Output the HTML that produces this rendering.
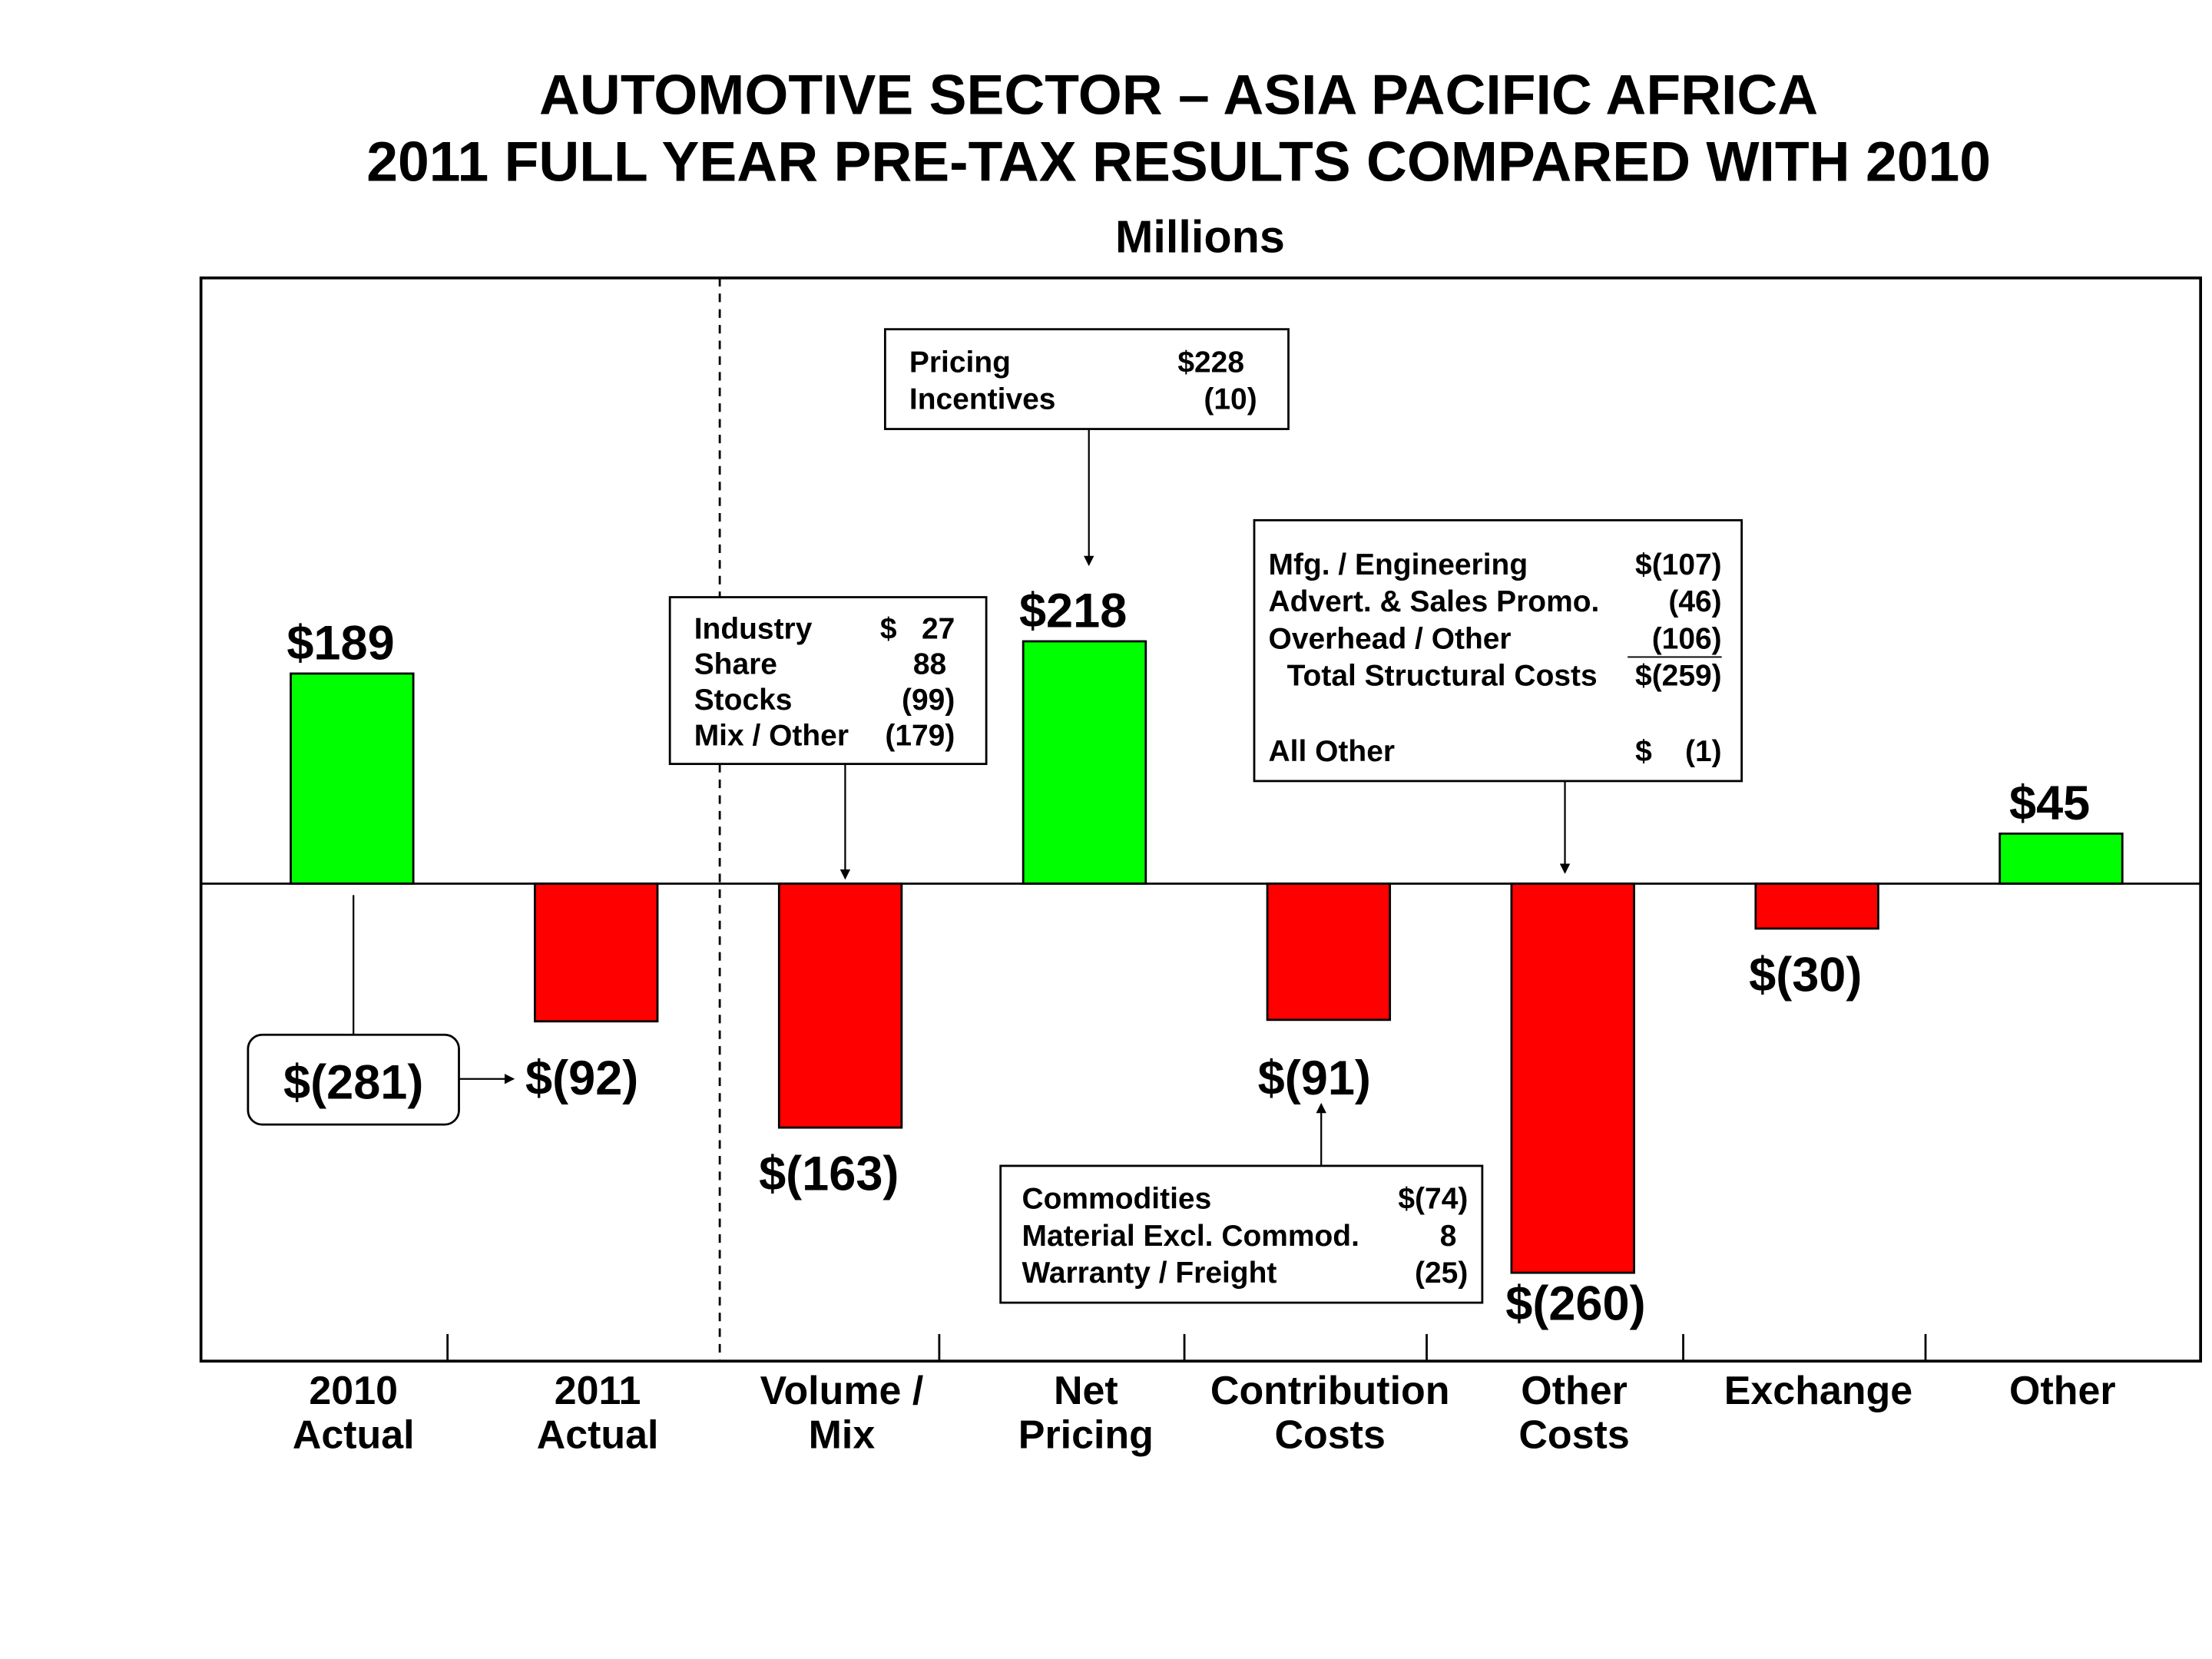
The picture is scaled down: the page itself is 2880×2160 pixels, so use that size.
<!DOCTYPE html>
<html><head><meta charset="utf-8"><style>
html,body{margin:0;padding:0;background:#fff}
svg{display:block}
text{font-family:"Liberation Sans",Arial,sans-serif;font-weight:bold;fill:#000}
</style></head><body>
<svg id="chart" width="2880" height="2160" viewBox="0 0 1552 1164" xmlns="http://www.w3.org/2000/svg">
<defs><marker id="ah" markerWidth="6" markerHeight="6" refX="5" refY="3" orient="auto"><path d="M0,0 L6,3 L0,6 z" fill="#000"/></marker></defs>
<text x="827" y="80" font-size="39.5" text-anchor="middle">AUTOMOTIVE SECTOR – ASIA PACIFIC AFRICA</text>
<text x="827" y="127" font-size="39.5" text-anchor="middle">2011 FULL YEAR PRE-TAX RESULTS COMPARED WITH 2010</text>
<text x="842" y="177" font-size="32" text-anchor="middle">Millions</text>
<rect x="141" y="195" width="1403" height="760" fill="none" stroke="#000" stroke-width="2"/>
<line x1="505" y1="195" x2="505" y2="955" stroke="#000" stroke-width="1.5" stroke-dasharray="6,5"/>
<g id="bars"></g>
<line x1="141" y1="620" x2="1544" y2="620" stroke="#000" stroke-width="1.5"/>
<g id="ticks"></g>
<g id="cats"></g>
<g id="vals"></g>

<line x1="248" y1="628" x2="248" y2="726" stroke="#000" stroke-width="1.2"/>
<rect x="174" y="726" width="148" height="63" rx="10" fill="#fff" stroke="#000" stroke-width="1.5"/>
<text x="248" y="771" font-size="34" text-anchor="middle">$(281)</text>
<line x1="322" y1="757" x2="360" y2="757" stroke="#000" stroke-width="1.2" marker-end="url(#ah)"/>

<g font-size="21">
<rect x="470" y="419" width="222" height="117" fill="#fff" stroke="#000" stroke-width="1.5"/>
<text x="487" y="448" font-size="21">Industry</text><text x="670" y="448" font-size="21" text-anchor="end" xml:space="preserve">$   27</text>
<text x="487" y="473" font-size="21">Share</text><text x="664" y="473" font-size="21" text-anchor="end">88</text>
<text x="487" y="498" font-size="21">Stocks</text><text x="670" y="498" font-size="21" text-anchor="end">(99)</text>
<text x="487" y="523" font-size="21">Mix / Other</text><text x="670" y="523" font-size="21" text-anchor="end">(179)</text>
<line x1="593" y1="536" x2="593" y2="616" stroke="#000" stroke-width="1.2" marker-end="url(#ah)"/>
</g>
<g>
<rect x="621" y="231" width="283" height="70" fill="#fff" stroke="#000" stroke-width="1.5"/>
<text x="638" y="261" font-size="21">Pricing</text><text x="873" y="261" font-size="21" text-anchor="end">$228</text>
<text x="638" y="287" font-size="21">Incentives</text><text x="882" y="287" font-size="21" text-anchor="end">(10)</text>
<line x1="764" y1="301" x2="764" y2="396" stroke="#000" stroke-width="1.2" marker-end="url(#ah)"/>
</g>
<g>
<rect x="880" y="365" width="342" height="183" fill="#fff" stroke="#000" stroke-width="1.5"/>
<text x="890" y="403" font-size="21">Mfg. / Engineering</text><text x="1208" y="403" font-size="21" text-anchor="end">$(107)</text>
<text x="890" y="429" font-size="21">Advert. &amp; Sales Promo.</text><text x="1208" y="429" font-size="21" text-anchor="end">(46)</text>
<text x="890" y="455" font-size="21">Overhead / Other</text><text x="1208" y="455" font-size="21" text-anchor="end">(106)</text>
<line x1="1142" y1="461" x2="1208" y2="461" stroke="#000" stroke-width="1"/>
<text x="903" y="481" font-size="21">Total Structural Costs</text><text x="1208" y="481" font-size="21" text-anchor="end">$(259)</text>
<text x="890" y="534" font-size="21">All Other</text><text x="1208" y="534" font-size="21" text-anchor="end" xml:space="preserve">$    (1)</text>
<line x1="1098" y1="548" x2="1098" y2="612" stroke="#000" stroke-width="1.2" marker-end="url(#ah)"/>
</g>
<g>
<rect x="702" y="818" width="338" height="96" fill="#fff" stroke="#000" stroke-width="1.5"/>
<text x="717" y="848" font-size="21">Commodities</text><text x="1030" y="848" font-size="21" text-anchor="end">$(74)</text>
<text x="717" y="874" font-size="21">Material Excl. Commod.</text><text x="1022" y="874" font-size="21" text-anchor="end">8</text>
<text x="717" y="900" font-size="21">Warranty / Freight</text><text x="1030" y="900" font-size="21" text-anchor="end">(25)</text>
<line x1="927" y1="818" x2="927" y2="775" stroke="#000" stroke-width="1.2" marker-end="url(#ah)"/>
</g>
</svg>
<script>
const categories1 = ["2010","2011","Volume /","Net","Contribution","Other","Exchange","Other"];
const categories2 = ["Actual","Actual","Mix","Pricing","Costs","Costs","",""];
const values = [189,-92,-163,218,-91,-260,-30,45];
const valueLabels = ["$189","$(92)","$(163)","$218","$(91)","$(260)","$(30)","$45"];
const NS="http://www.w3.org/2000/svg";
const zeroY=620, posScale=0.78, negScale=1.05;
function xC(i){return 247+171.3*i;}
function yV(v){return v>=0? zeroY-v*posScale : zeroY-v*negScale;}
function mk(t,a,p){const e=document.createElementNS(NS,t);for(const k in a)e.setAttribute(k,a[k]);p.appendChild(e);return e;}
const bars=document.getElementById('bars'),cats=document.getElementById('cats'),vals=document.getElementById('vals'),ticks=document.getElementById('ticks');
values.forEach((v,i)=>{
  const y0=Math.min(yV(v),zeroY),h=Math.abs(yV(v)-zeroY);
  const r=mk('rect',{x:xC(i)-43,y:y0,width:86,height:h,fill:v>=0?'#00ff00':'#ff0000',stroke:'#000','stroke-width':1.5},bars);
  
  
  let lx=xC(i),ly;
  if(v>=0){ly=yV(v)-10;lx=xC(i)-8;}
  else if(i===1||i===4){ly=768;lx=xC(i)-10;}
  else {ly=yV(v)+44;lx=xC(i)-8;}
  if(i===5){ly=yV(v)+33;lx=xC(i)+2;}
  const t=mk('text',{x:lx,y:ly,'font-size':34,'text-anchor':'middle'},vals);
  t.textContent=valueLabels[i];
  
  
  const c1=mk('text',{x:xC(i)+1,y:985,'font-size':28,'text-anchor':'middle'},cats);
  c1.textContent=categories1[i];
  
  
  const c2=mk('text',{x:xC(i)+1,y:1016,'font-size':28,'text-anchor':'middle'},cats);
  c2.textContent=categories2[i];
  
  
});
[314,659,831,1001,1181,1351].forEach((x,k)=>{
  const l=mk('line',{x1:x,y1:936,x2:x,y2:955,stroke:'#000','stroke-width':1.5},ticks);
  
  
});
</script>
</body></html>
